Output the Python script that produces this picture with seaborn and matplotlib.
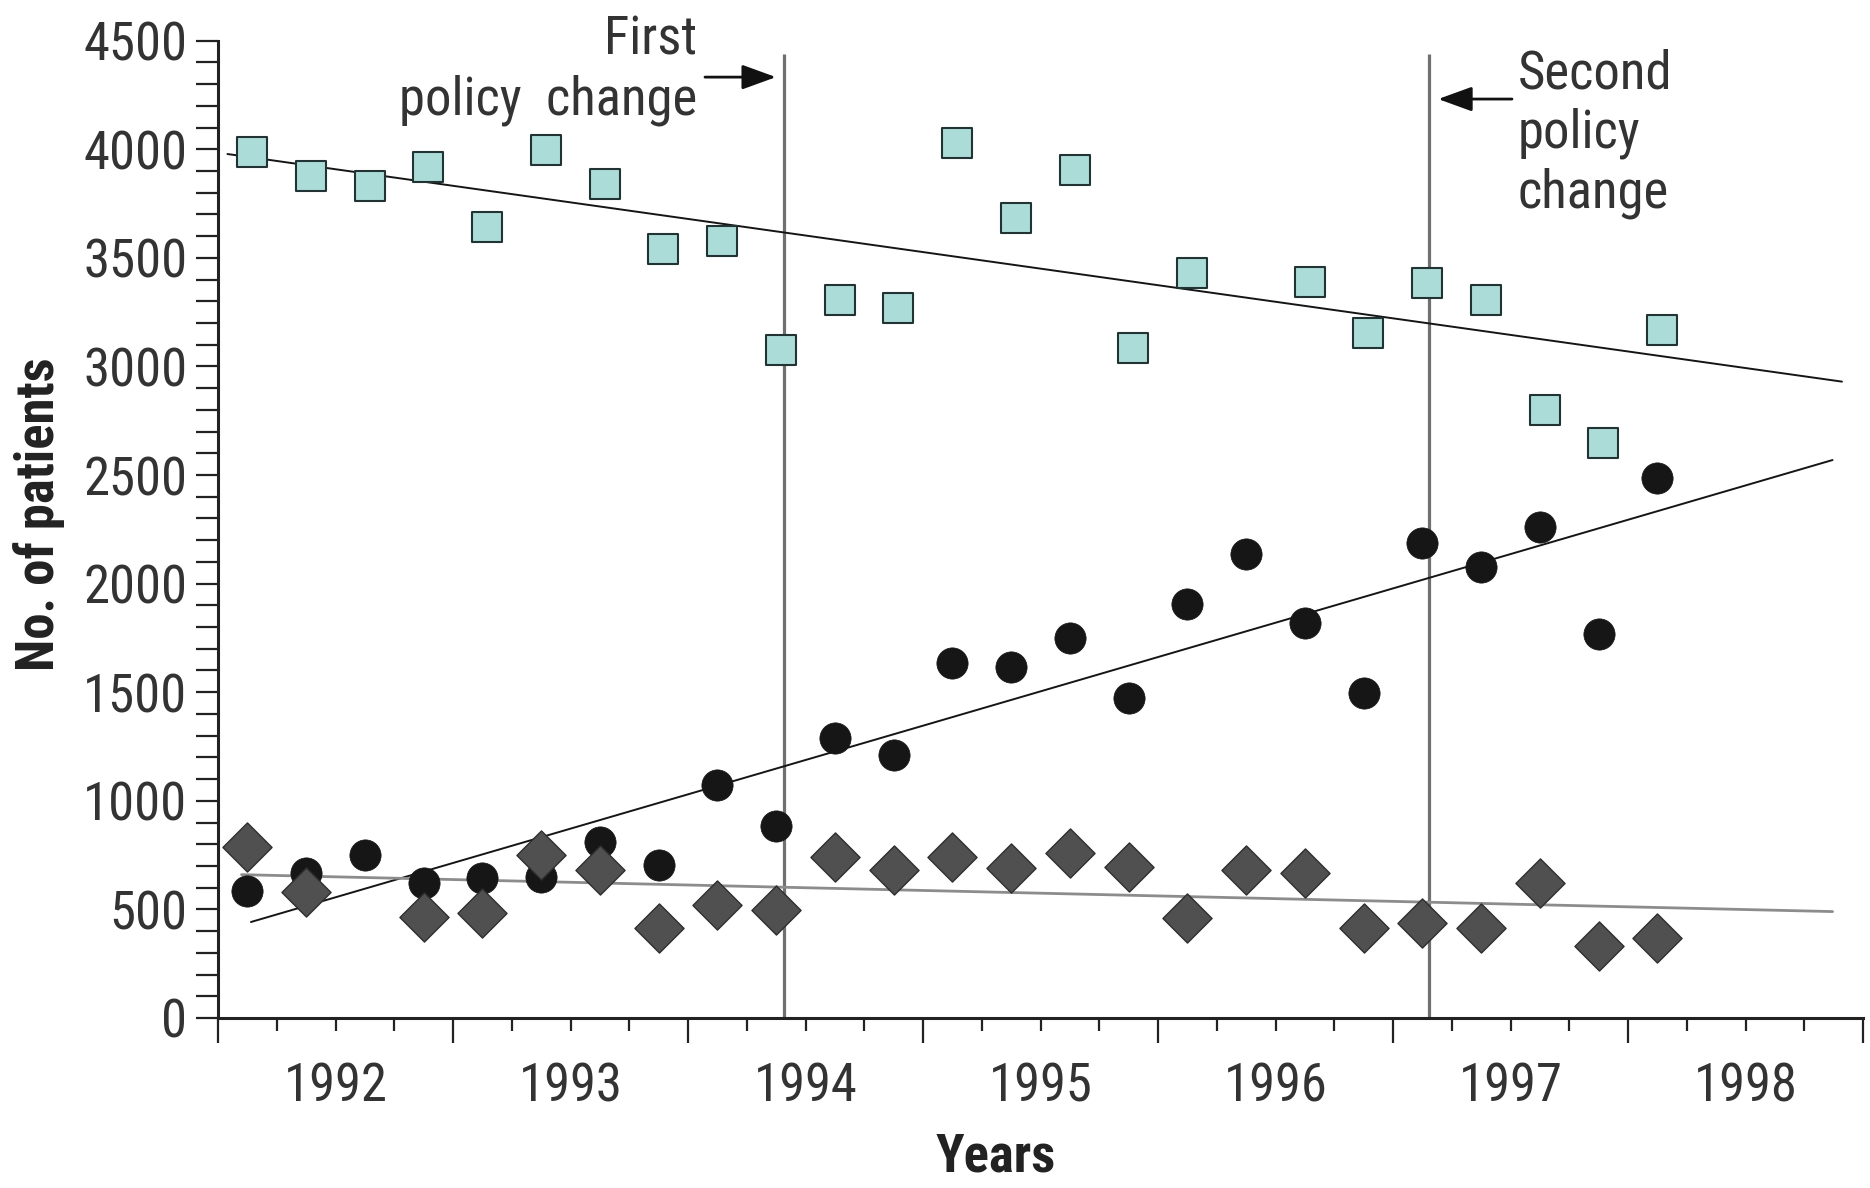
import os
import matplotlib.pyplot as plt
import matplotlib.ticker as mticker
from matplotlib import font_manager
import numpy as np
import pandas as pd
import seaborn as sns

# quarterly observations, plotted at the middle of each quarter (1992 Q1 .. 1998 Q1)
quarter_mid = [1992.125, 1992.375, 1992.625, 1992.875,
               1993.125, 1993.375, 1993.625, 1993.875,
               1994.125, 1994.375, 1994.625, 1994.875,
               1995.125, 1995.375, 1995.625, 1995.875,
               1996.125, 1996.375, 1996.625, 1996.875,
               1997.125, 1997.375, 1997.625, 1997.875,
               1998.125]

nan = np.nan
squares = [3987, 3877, 3831, 3918, 3642, 3996, 3840, 3540, 3578, 3075,
           3306, 3269, 4028, 3683, 3904, 3085, 3430, nan, 3389, 3154,
           3384, 3306, 2799, 2647, 3168]
circles = [585, 668, 750, 622, 645, 649, 810, 704, 1073, 884,
           1289, 1211, 1634, 1616, 1749, 1473, 1906, 2136, 1819, 1496,
           2187, 2076, 2261, 1768, 2488]
diamonds = [787, 580, nan, 465, 483, 750, 681, 414, 520, 497,
            741, 681, 741, 690, 760, 695, 462, 681, 667, 414,
            437, 414, 622, 331, 368]

# fitted trend lines as drawn in the figure: (start year, end year), (start value, end value)
trend_years_squares = [1992.04, 1998.91]
trend_vals_squares = [3978, 2930]
trend_years_circles = [1992.14, 1998.87]
trend_vals_circles = [442, 2569]
trend_years_diamonds = [1992.10, 1998.87]
trend_vals_diamonds = [660, 490]

policy_changes = [1994.408, 1997.155]
year_labels = list(range(1992, 1999))

df = pd.DataFrame({'year': quarter_mid, 'squares': squares,
                   'circles': circles, 'diamonds': diamonds})


# the original uses a condensed sans; take one if the machine has it
def find_file(names):
    files = {os.path.basename(f.fname): f.fname for f in font_manager.fontManager.ttflist}
    for n in names:
        if n in files:
            return files[n]
    return None


reg_file = find_file(['LiberationSansNarrow-Regular.ttf', 'RobotoCondensed-Regular.ttf',
                      'NotoSans-Condensed.ttf', 'NotoSans-CondensedRegular.ttf',
                      'OpenSans-CondensedRegular.ttf', 'OpenSans_Condensed-Regular.ttf',
                      'DejaVuSansCondensed.ttf', 'NotoSans-SemiCondensed.ttf'])
bold_file = find_file(['LiberationSansNarrow-Bold.ttf', 'RobotoCondensed-Bold.ttf',
                       'NotoSans-CondensedBold.ttf', 'OpenSans-CondensedBold.ttf',
                       'OpenSans_Condensed-Bold.ttf', 'DejaVuSansCondensed-Bold.ttf',
                       'NotoSans-SemiCondensedBold.ttf'])
fs = 38 if reg_file else 33


def font(bold=False):
    f = bold_file if bold else reg_file
    if f:
        return font_manager.FontProperties(fname=f, size=fs)
    return font_manager.FontProperties(family='Liberation Sans',
                                       weight='bold' if bold else 'normal', size=fs)


sns.set_style('ticks')
plt.rcParams['font.family'] = ['Liberation Sans', 'DejaVu Sans']
text_col = '#333333'

fig = plt.figure(figsize=(18.7, 11.88), dpi=100)
ax = fig.add_axes([0.1166, 0.1431, 0.8797, 0.8227])

# policy change markers
ax.vlines(policy_changes, 0, 4440, color='#707070', lw=2.3, zorder=1)

# trend lines
sns.lineplot(x=trend_years_squares, y=trend_vals_squares, color='#151515', lw=1.4, ax=ax, zorder=2)
sns.lineplot(x=trend_years_circles, y=trend_vals_circles, color='#151515', lw=1.4, ax=ax, zorder=2)
sns.lineplot(x=trend_years_diamonds, y=trend_vals_diamonds, color='#8c8c8c', lw=2.0, ax=ax, zorder=2)

# points
sns.scatterplot(x=df['year'] + 0.02, y=df['squares'], marker='s', s=22 ** 2,
                color='#acdcd8', edgecolor='#223333', linewidth=1.5, ax=ax, zorder=4)
sns.scatterplot(x=df['year'], y=df['circles'], marker='o', s=22.5 ** 2,
                color='#161616', edgecolor='#161616', linewidth=0.5, ax=ax, zorder=4)
sns.scatterplot(x=df['year'], y=df['diamonds'], marker='D', s=25 ** 2,
                color='#505050', edgecolor='#2e2e2e', linewidth=1.0, ax=ax, zorder=5)

# axes
ax.set_xlim(1992, 1999)
ax.set_ylim(0, 4500)
sns.despine(ax=ax)
for side in ['left', 'bottom']:
    ax.spines[side].set_linewidth(2.2)
    ax.spines[side].set_color('#222222')

ax.xaxis.set_major_locator(mticker.FixedLocator(range(1992, 2000)))
ax.xaxis.set_major_formatter(mticker.NullFormatter())
minor_x = [y + q for y in range(1992, 1999) for q in (0.25, 0.5, 0.75)]
ax.xaxis.set_minor_locator(mticker.FixedLocator(minor_x))
ax.xaxis.set_minor_formatter(mticker.FuncFormatter(
    lambda v, p: str(int(v)) if int(v) in year_labels and abs(v % 1 - 0.5) < 1e-6 else ''))

ax.yaxis.set_major_locator(mticker.MultipleLocator(500))
ax.yaxis.set_minor_locator(mticker.MultipleLocator(100))

ax.tick_params(axis='x', which='major', length=18, width=1.6, color='#222222', direction='out')
ax.tick_params(axis='x', which='minor', length=9, width=1.6, color='#222222', direction='out',
               pad=22, labelcolor=text_col)
ax.tick_params(axis='y', which='both', length=16, width=1.6, color='#222222', direction='out',
               pad=6, labelcolor=text_col)
for lab in ax.get_xticklabels(which='minor') + ax.get_yticklabels():
    lab.set_fontproperties(font())

ax.set_xlabel('Years', fontproperties=font(True), color='#222222', va='center')
ax.xaxis.set_label_coords(0.473, -0.1422)
ax.set_ylabel('No. of patients', fontproperties=font(True), color='#222222', va='center')
ax.yaxis.set_label_coords(-0.1088, 0.5157)

# annotations
ax.text(1994.04, 4365, 'First\npolicy  change', ha='right', va='center',
        multialignment='right', fontproperties=font(), color=text_col, linespacing=1.22)
ax.annotate('', xy=(1994.374, 4332), xytext=(1994.072, 4332),
            arrowprops=dict(arrowstyle='-|>,head_length=0.55,head_width=0.2',
                            mutation_scale=38, color='#111111', lw=2.0,
                            shrinkA=0, shrinkB=0))
ax.text(1997.531, 4072, 'Second\npolicy\nchange', ha='left', va='center',
        fontproperties=font(), color=text_col, linespacing=1.2)
ax.annotate('', xy=(1997.192, 4231), xytext=(1997.506, 4231),
            arrowprops=dict(arrowstyle='-|>,head_length=0.55,head_width=0.2',
                            mutation_scale=38, color='#111111', lw=2.0,
                            shrinkA=0, shrinkB=0))

fig.savefig('out.png', dpi=100, facecolor='white')
